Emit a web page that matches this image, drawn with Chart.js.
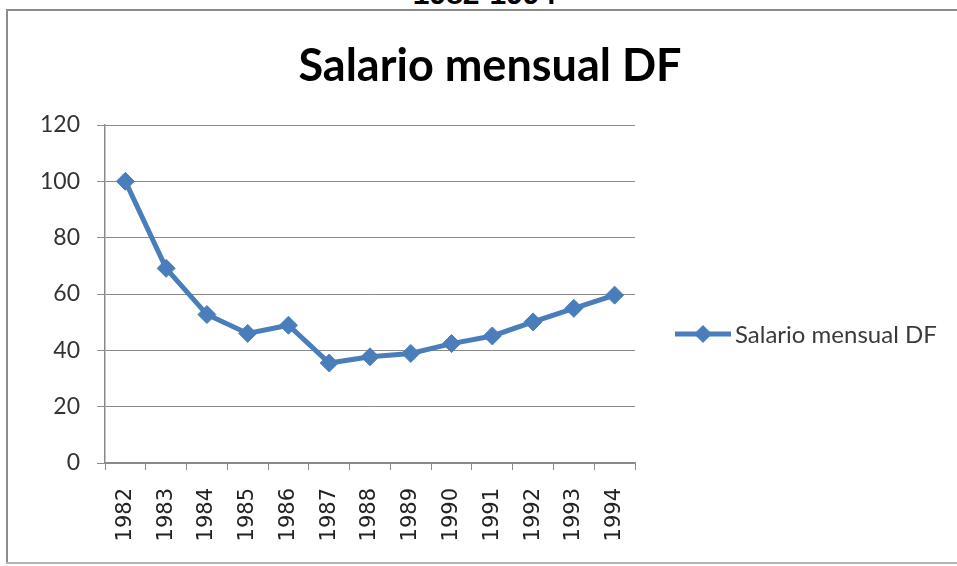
<!DOCTYPE html>
<html>
<head>
<meta charset="utf-8">
<script src="https://cdn.jsdelivr.net/npm/chart.js@4/dist/chart.umd.min.js"></script>
<style>
html,body{margin:0;padding:0;background:#fff;width:957px;height:566px;overflow:hidden;position:relative;}
.fl{position:absolute;background:#8c8c8c;}
#cut{position:absolute;left:0;width:957px;text-align:center;top:-21px;font:bold 30px/30px "Liberation Sans",Arial,sans-serif;color:#000;padding-left:12px;box-sizing:border-box;}
#wrap{position:absolute;left:0;top:0;width:957px;height:566px;}
</style>
</head>
<body>
<div id="cut">1982-1994</div>
<div class="fl" style="left:6px;top:9px;width:951px;height:2px;"></div>
<div class="fl" style="left:6px;top:9px;width:2px;height:555px;"></div>
<div class="fl" style="left:6px;top:562px;width:951px;height:2px;background:#b4b4b4;"></div>
<div id="wrap"><canvas id="c" width="957" height="566"></canvas></div>
<script>
const chartTitle = "Salario mensual DF";
const seriesLabel = "Salario mensual DF";
const years = ["1982","1983","1984","1985","1986","1987","1988","1989","1990","1991","1992","1993","1994"];
const salario = [100, 69.1, 52.7, 46.0, 48.9, 35.5, 37.7, 38.9, 42.4, 45.1, 50.1, 54.9, 59.6];
const yTicks = [0, 20, 40, 60, 80, 100, 120];

const blue = "#4a7ebb";
const gridCol = "#8a8a8a";

const decorPlugin = {
  id: "decor",
  afterDraw(chart) {
    const ctx = chart.ctx;
    ctx.save();
    // title
    ctx.fillStyle = "#000";
    ctx.font = "bold 45px Lato";
    ctx.textAlign = "center";
    ctx.textBaseline = "alphabetic";
    ctx.fillText(chartTitle, 490, 81);
    // legend
    const y = 334;
    ctx.strokeStyle = blue;
    ctx.lineWidth = 5;
    ctx.beginPath();
    ctx.moveTo(675, y);
    ctx.lineTo(731, y);
    ctx.stroke();
    ctx.fillStyle = blue;
    ctx.beginPath();
    ctx.moveTo(703, y - 9);
    ctx.lineTo(712, y);
    ctx.lineTo(703, y + 9);
    ctx.lineTo(694, y);
    ctx.closePath();
    ctx.fill();
    ctx.fillStyle = "#3a3a3a";
    ctx.font = "24px Lato";
    ctx.textBaseline = "middle";
    ctx.textAlign = "left";
    ctx.fillText(chart.data.datasets[0].label, 735, y + 1);
    ctx.restore();
  }
};

new Chart(document.getElementById("c"), {
  type: "line",
  data: {
    labels: years,
    datasets: [{
      label: seriesLabel,
      data: salario,
      borderColor: blue,
      backgroundColor: blue,
      borderWidth: 5,
      pointStyle: "rectRot",
      pointRadius: 9,
      pointHoverRadius: 9,
      pointBackgroundColor: blue,
      pointBorderColor: blue,
      pointBorderWidth: 1,
      tension: 0,
      fill: false
    }]
  },
  options: {
    responsive: false,
    animation: false,
    layout: { padding: { left: 0, right: 322, top: 125, bottom: 0 } },
    plugins: {
      legend: { display: false },
      tooltip: { enabled: false },
      title: { display: false }
    },
    scales: {
      x: {
        offset: true,
        grid: { offset: true, drawOnChartArea: false, drawTicks: true, tickLength: 7, color: gridCol, lineWidth: 1 },
        border: { display: true, color: gridCol, width: 1.5 },
        ticks: {
          minRotation: 90, maxRotation: 90, autoSkip: false, padding: 18,
          color: "#222",
          font: { family: "DejaVu Sans", size: 21 }
        },
        afterFit(s) { s.height = 103; }
      },
      y: {
        min: 0, max: 120,
        afterBuildTicks(s) { s.ticks = yTicks.map(v => ({ value: v })); },
        grid: { color: gridCol, lineWidth: 1, drawTicks: true, tickLength: 8 },
        border: { display: true, color: gridCol, width: 1.5 },
        ticks: {
          padding: 17, color: "#333",
          font: { family: "Lato", size: 23 }
        },
        afterFit(s) { s.width = 105; }
      }
    }
  },
  plugins: [decorPlugin]
});
</script>
</body>
</html>
